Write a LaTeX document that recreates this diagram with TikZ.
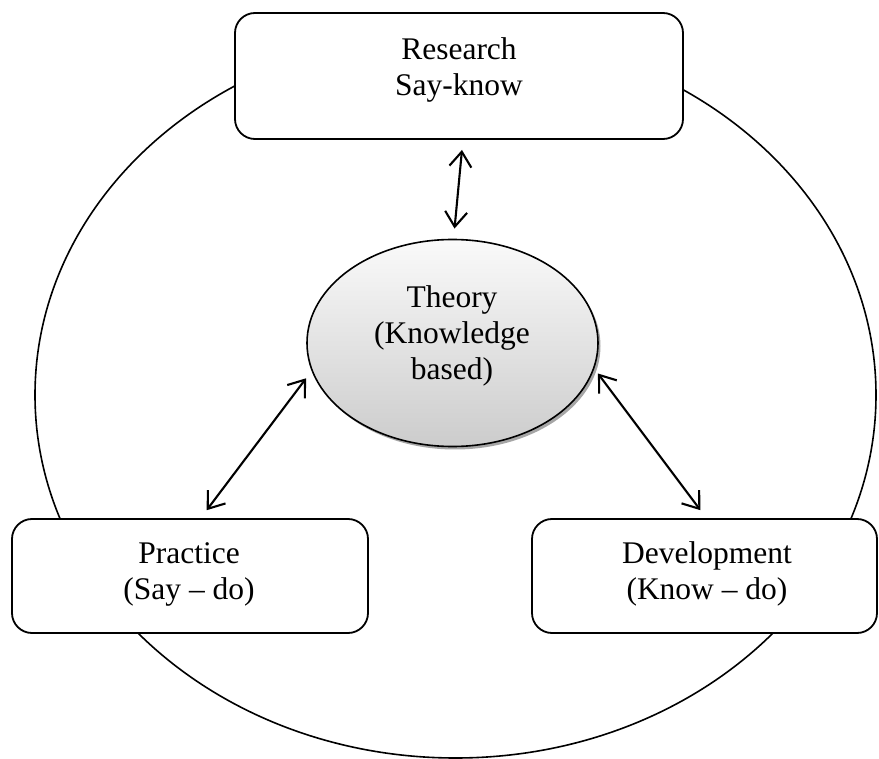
\documentclass[tikz,border=0pt]{standalone}
\usepackage{fontspec}
\setmainfont{Liberation Serif}
\usetikzlibrary{shapes.geometric,arrows.meta,shadows}
\begin{document}
\begin{tikzpicture}[x=1pt,y=-1pt,
  every node/.style={inner sep=0pt, outer sep=0pt},
  ring/.style={ellipse, draw=black, line width=1.6pt,
    minimum width=841pt, minimum height=726pt},
  stagebox/.style={draw=black, fill=white, line width=1.8pt, rounded corners=20pt},
  core/.style={ellipse, draw=black, line width=1.6pt,
    top color=gray!4, bottom color=gray!40,
    drop shadow={shadow xshift=2.5pt, shadow yshift=-3pt, fill=black, opacity=0.35},
    minimum width=291pt, minimum height=207pt},
  boxtext/.style={align=center, font=\fontsize{31.5}{36}\selectfont},
  biarrow/.style={{Straight Barb[length=15pt,width=22pt]}-{Straight Barb[length=15pt,width=22pt]},
    line width=2.1pt}
]
\useasboundingbox (0,0) rectangle (879,759);

% outer cycle
\node[ring] (ring) at (455.5,395) {};

% the three stages
\node[stagebox, minimum width=448pt, minimum height=126pt] (research) at (459,76) {};
\node[boxtext] (research-t) at (459,70) {Research\\Say-know};

\node[stagebox, minimum width=356pt, minimum height=114pt] (practice) at (190,576) {};
\node[boxtext] (practice-t) at (189,574) {Practice\\(Say – do)};

\node[stagebox, minimum width=345pt, minimum height=114pt] (development) at (704.5,576) {};
\node[boxtext] (development-t) at (707,574) {Development\\(Know – do)};

% central theory
\node[core] (theory) at (452.5,343) {};
\node[boxtext] (theory-t) at (452,336) {Theory\\(Knowledge\\based)};

% two-way links
\draw[biarrow, shorten <=11pt, shorten >=11pt]
  ([xshift=4pt]research.south) -- ([xshift=1pt]theory.north);
\draw[biarrow, shorten <=10pt, shorten >=11pt]
  (theory.191) -- ([xshift=10pt]practice.north);
\draw[biarrow, shorten <=7pt, shorten >=11pt]
  (theory.-10) -- ([xshift=2.5pt]development.north);
\end{tikzpicture}
\end{document}
